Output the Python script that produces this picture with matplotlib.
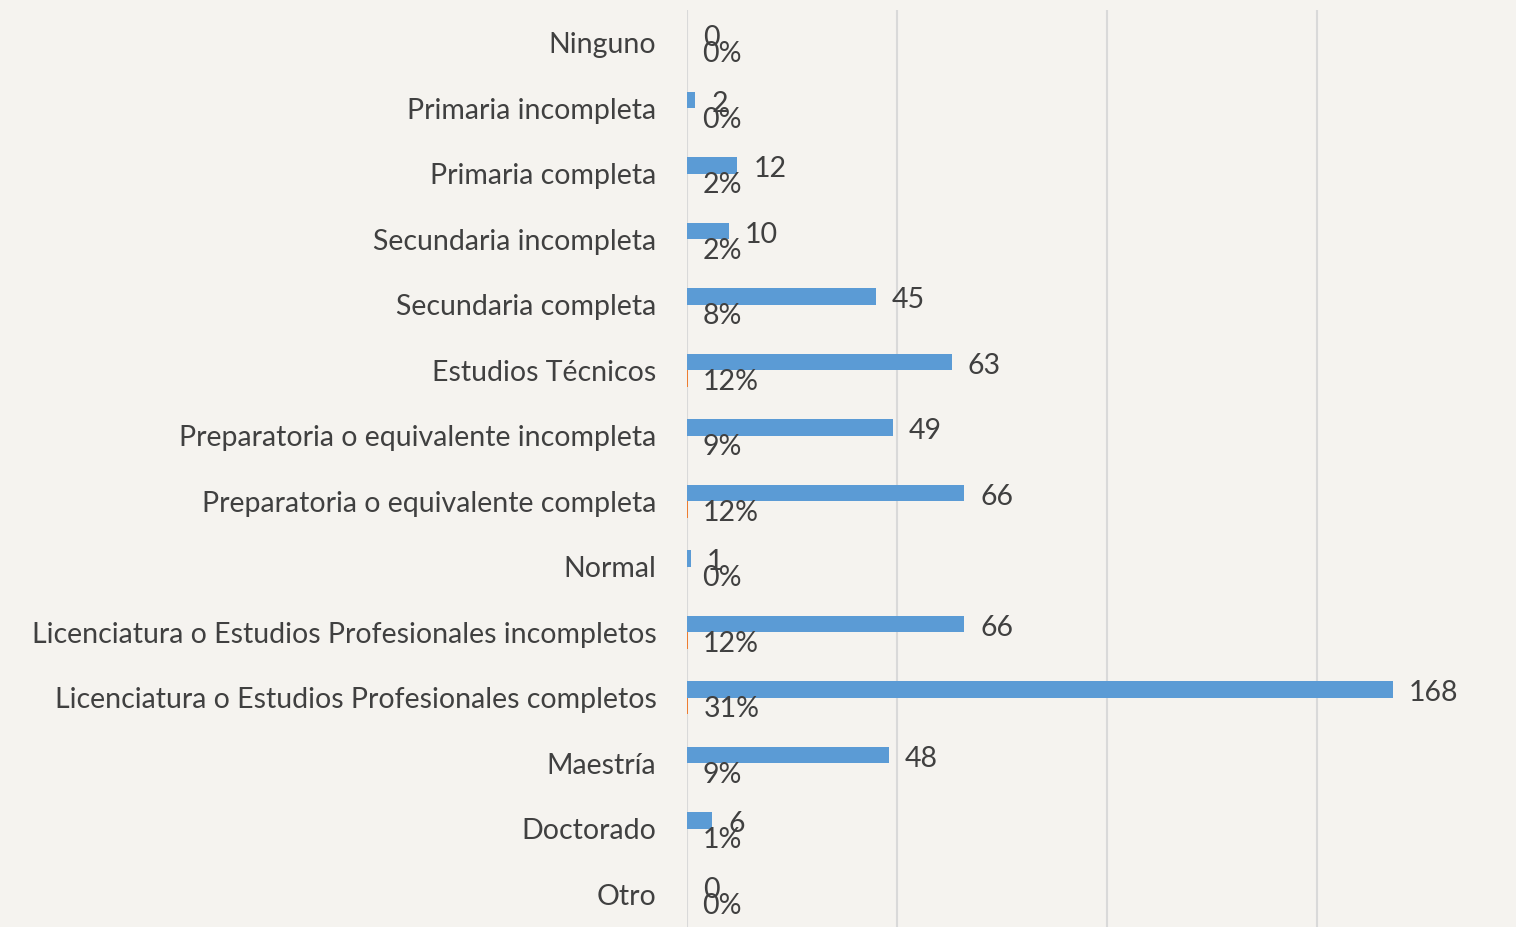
import matplotlib.pyplot as plt
from matplotlib.ticker import MultipleLocator

# --- datos ---
categorias = [
    "Ninguno",
    "Primaria incompleta",
    "Primaria completa",
    "Secundaria incompleta",
    "Secundaria completa",
    "Estudios Técnicos",
    "Preparatoria o equivalente incompleta",
    "Preparatoria o equivalente completa",
    "Normal",
    "Licenciatura o Estudios Profesionales incompletos",
    "Licenciatura o Estudios Profesionales completos",
    "Maestría",
    "Doctorado",
    "Otro",
]
conteos = [0, 2, 12, 10, 45, 63, 49, 66, 1, 66, 168, 48, 6, 0]
porcentajes = [0, 0, 2, 2, 8, 12, 9, 12, 0, 12, 31, 9, 1, 0]

azul = "#5B9BD5"
naranja = "#ED7D31"
gris_texto = "#404040"
fondo = "#F5F3EF"

plt.rcParams["font.family"] = ["Lato", "DejaVu Sans"]

fig = plt.figure(figsize=(15.16, 9.27), dpi=100, facecolor=fondo)
W, H = 1516, 927
# eje: x de 687 a 1527 px, y de 10 a 927 px
ax = fig.add_axes([687 / W, 0, (1527 - 687) / W, (927 - 10) / H])
ax.set_facecolor(fondo)

y = list(range(len(categorias)))
alto = 0.25
ax.barh([v - alto / 2 for v in y], conteos, height=alto, color=azul)
ax.barh([v + alto / 2 for v in y], [p / 100 for p in porcentajes],
        height=alto, color=naranja)

fs = 20.5
for i, (c, p) in enumerate(zip(conteos, porcentajes)):
    ax.annotate(str(c), (c, i - alto / 2), xytext=(11.5, -2.5),
                textcoords="offset points", va="center", ha="left",
                fontsize=fs, color=gris_texto)
    ax.annotate(f"{p}%", (p / 100, i + alto / 2), xytext=(11, -2.5),
                textcoords="offset points", va="center", ha="left",
                fontsize=fs, color=gris_texto)

ax.set_xlim(0, 200)
ax.set_ylim(len(categorias) - 0.5, -0.5)
ax.set_yticks(y)
ax.set_yticklabels(categorias, fontsize=fs, color=gris_texto)
ax.tick_params(axis="y", length=0, pad=22)
ax.xaxis.set_major_locator(MultipleLocator(50))
ax.tick_params(axis="x", length=0, labelbottom=False)
ax.grid(axis="x", color="#D9D9D9", linewidth=1.5)
ax.set_axisbelow(True)
for s in ax.spines.values():
    s.set_visible(False)

fig.savefig("out.png", dpi=100, facecolor=fondo)
